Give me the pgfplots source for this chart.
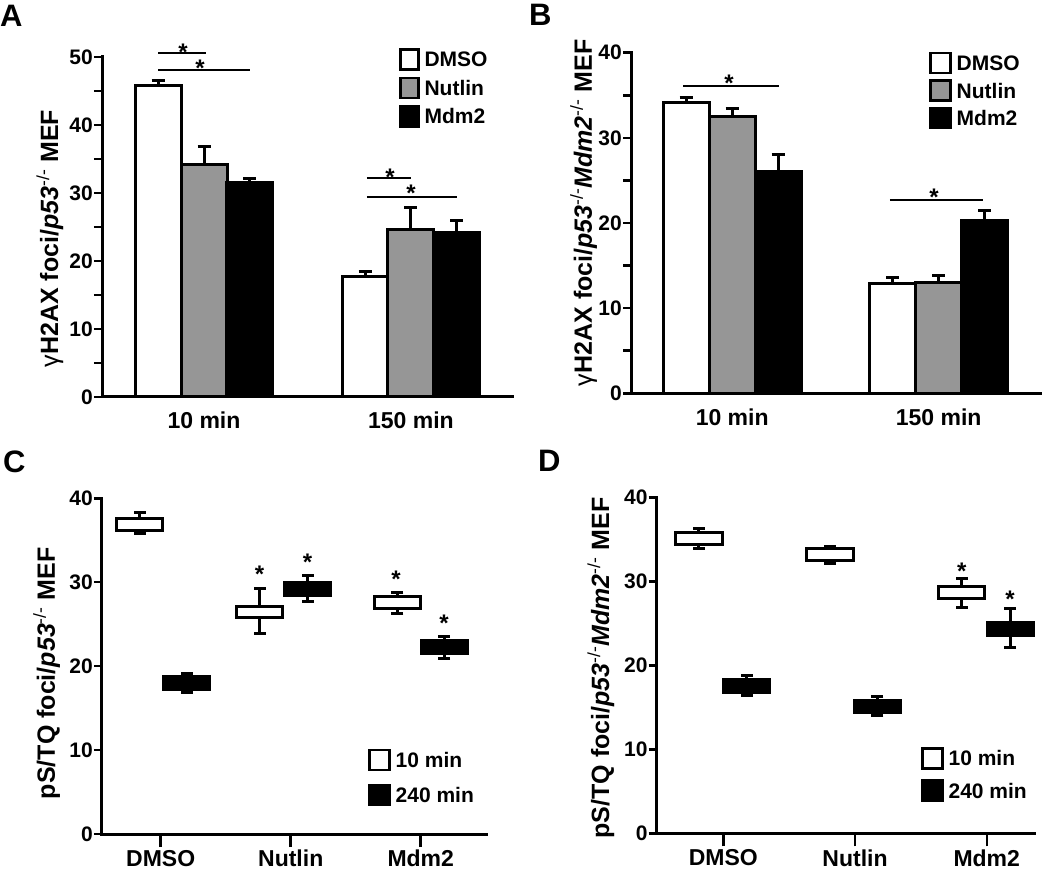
\documentclass[border=0pt]{standalone}
\usepackage{pgfplots}
\pgfplotsset{compat=1.18}
\usepackage{fontspec}
\setmainfont{Liberation Sans}
\definecolor{ngray}{RGB}{150,150,150}
\newcommand{\tickfont}{\fontsize{21}{21}\selectfont\bfseries}
\newcommand{\xlabfont}{\fontsize{23}{23}\selectfont\bfseries}
\newcommand{\legfont}{\fontsize{21}{21}\selectfont\bfseries}
\newcommand{\ylabfont}{\fontsize{25}{25}\selectfont\bfseries}
\newcommand{\starfont}{\fontsize{24}{24}\selectfont\bfseries}
\newcommand{\panelfont}{\fontsize{31}{31}\selectfont\bfseries}
\tikzset{
  sig/.style={line width=2pt},
  star/.style={font=\starfont, anchor=base, yshift=-13.5pt, inner sep=0pt},
}
\pgfplotsset{
  panel/.style={
    scale only axis, anchor=south west, clip=false,
    axis x line*=bottom, axis y line*=left,
    axis line style={line width=3pt, -, line cap=rect},
    tick align=outside, major tick length=8pt, minor tick length=8pt,
    every tick/.style={line width=2.5pt, black},
    /pgf/number format/assume math mode=true,
    yticklabel style={font=\tickfont, inner sep=0pt, xshift=-1pt},
    ylabel style={font=\ylabfont, anchor=base},
    ymin=0,
    legend style={anchor=north west, draw=none, fill=none, inner sep=0pt,
      font=\legfont, column sep=5pt,
      nodes={inner sep=0pt, text height=15pt, text depth=0pt}, cells={anchor=west}},
  },
  catx/.style={xtick=\empty,
    extra x ticks={0,1,2}, extra x tick labels={DMSO,Nutlin,Mdm2},
    extra x tick style={major tick length=13pt,
      xticklabel style={font=\xlabfont, inner sep=0pt, yshift=-3pt}}},
  legsq/.style={legend image code/.code={\draw[draw=black, fill=#1, line width=2.5pt] (0pt,-10pt) rectangle (18pt,10pt);}},
  legsqb/.style={legend image code/.code={\draw[draw=black, fill=#1, line width=2.5pt] (0pt,-10pt) rectangle (20pt,10pt);}},
  barA/.style={ybar, bar width=46pt, bar shift=0pt, draw=black, line width=3pt, fill=#1,
     error bars/.cd, y dir=plus, y explicit,
     error bar style={line width=3pt, black},
     error mark options={rotate=90, mark size=6.5pt, line width=3pt, black}},
  whisk/.style={draw=black, line width=3pt, mark=none},
  caps/.style={only marks, mark=-, mark size=6pt, mark options={draw=black, line width=3pt}},
  box/.style={draw=black, fill=#1, line width=3pt, mark=none, line join=miter},
}
\begin{document}
\begin{tikzpicture}
\useasboundingbox (0pt,0pt) rectangle (1050pt,871pt);

% ---------------- Panel A ----------------
\begin{axis}[panel, at={(102pt,474pt)}, width=410pt, height=340pt,
  xmin=-0.4928, xmax=1.488, ymax=50,
  ytick={0,10,20,30,40,50}, minor ytick={5,15,25,35,45},
  xtick={0,1}, xticklabels={10 min,150 min}, xtick style={draw=none},
  xticklabel style={font=\xlabfont, inner sep=0pt, yshift=-7pt},
  ylabel={{\mdseries γ}H2AX foci/\textit{p53}\textsuperscript{\mdseries -/-} MEF},
  ylabel style={at={(axis description cs:-0.107,0.466)}},
  legend style={at={(axis description cs:0.724,1.027)}, row sep=6pt},
]
\addlegendimage{legsq=white}\addlegendentry{DMSO}
\addlegendimage{legsq=ngray}\addlegendentry{Nutlin}
\addlegendimage{legsq=black}\addlegendentry{Mdm2}
\addplot[barA=white] coordinates {(-0.222,45.8) +- (0,0.7) (0.778,17.7) +- (0,0.7)};
\addplot[barA=ngray] coordinates {(0,34.2) +- (0,2.6) (1,24.7) +- (0,3.1)};
\addplot[barA=black] coordinates {(0.222,31.6) +- (0,0.6) (1.222,24.2) +- (0,1.8)};
\draw[sig] (axis cs:-0.222,50.63) -- (axis cs:0.01,50.63);
\draw[sig] (axis cs:-0.222,48.09) -- (axis cs:0.222,48.09);
\draw[sig] (axis cs:0.787,32.16) -- (axis cs:1.0,32.16);
\draw[sig] (axis cs:0.787,29.46) -- (axis cs:1.222,29.46);
\node[star] at (axis cs:-0.101,51.47) {*};
\node[star] at (axis cs:-0.019,49.12) {*};
\node[star] at (axis cs:0.899,33.13) {*};
\node[star] at (axis cs:1.0,30.69) {*};
\end{axis}

% ---------------- Panel B ----------------
\begin{axis}[panel, at={(631pt,477.7pt)}, width=409pt, height=340.6pt,
  xmin=-0.490, xmax=1.4906, ymax=40,
  ytick={0,10,20,30,40}, minor ytick={5,15,25,35},
  xtick={0,1}, xticklabels={10 min,150 min}, xtick style={draw=none},
  xticklabel style={font=\xlabfont, inner sep=0pt, yshift=-7pt},
  ylabel={{\mdseries γ}H2AX foci/\textit{p53}\textsuperscript{\mdseries -/-}\textit{Mdm2}\textsuperscript{\mdseries -/-} MEF},
  ylabel style={at={(axis description cs:-0.0954,0.530)}},
  legend style={at={(axis description cs:0.7286,1.003)}, row sep=5pt},
]
\addlegendimage{legsqb=white}\addlegendentry{DMSO}
\addlegendimage{legsqb=ngray}\addlegendentry{Nutlin}
\addlegendimage{legsqb=black}\addlegendentry{Mdm2}
\addplot[barA=white] coordinates {(-0.223,34.1) +- (0,0.6) (0.777,12.9) +- (0,0.7)};
\addplot[barA=ngray] coordinates {(0,32.5) +- (0,0.9) (1,13.0) +- (0,0.8)};
\addplot[barA=black] coordinates {(0.223,26.1) +- (0,1.9) (1.223,20.3) +- (0,1.2)};
\draw[sig] (axis cs:-0.238,36.09) -- (axis cs:0.227,36.09);
\draw[sig] (axis cs:0.764,22.70) -- (axis cs:1.2145,22.70);
\node[star] at (axis cs:-0.015,36.99) {*};
\node[star] at (axis cs:0.977,23.68) {*};
\end{axis}

% ---------------- Panel C ----------------
\begin{axis}[panel, catx, at={(102pt,37pt)}, width=384pt, height=335.7pt,
  xmin=-0.4515, xmax=2.502, ymax=40,
  ytick={0,10,20,30,40},
  ylabel={pS/TQ foci/\textit{p53}\textsuperscript{\mdseries -/-} MEF},
  ylabel style={at={(axis description cs:-0.1224,0.479)}},
  legend style={at={(axis description cs:0.6927,0.254)}, row sep=12.4pt},
]
\addlegendimage{legsqb=white}\addlegendentry{10 min}
\addlegendimage{legsqb=black}\addlegendentry{240 min}
% whiskers (lower whisker to upper whisker)
\addplot[whisk] coordinates {(-0.163,35.8) (-0.163,38.3)};
\addplot[whisk] coordinates {(0.2,16.85) (0.2,19.15)};
\addplot[whisk] coordinates {(0.76,23.9) (0.76,29.3)};
\addplot[whisk] coordinates {(1.13,27.7) (1.13,30.8)};
\addplot[whisk] coordinates {(1.82,26.3) (1.82,28.8)};
\addplot[whisk] coordinates {(2.18,20.9) (2.18,23.5)};
\addplot[caps] coordinates {(-0.163,35.8) (-0.163,38.3) (0.2,16.85) (0.2,19.15)
  (0.76,23.9) (0.76,29.3) (1.13,27.7) (1.13,30.8) (1.82,26.3) (1.82,28.8) (2.18,20.9) (2.18,23.5)};
% boxes (lower quartile to upper quartile)
\addplot[box=white] coordinates {(-0.340,36.2) (0.014,36.2) (0.014,37.6) (-0.340,37.6)} -- cycle;
\addplot[box=black] coordinates {(0.023,17.25) (0.377,17.25) (0.377,18.75) (0.023,18.75)} -- cycle;
\addplot[box=white] coordinates {(0.583,25.8) (0.937,25.8) (0.937,27.1) (0.583,27.1)} -- cycle;
\addplot[box=black] coordinates {(0.953,28.4) (1.307,28.4) (1.307,29.95) (0.953,29.95)} -- cycle;
\addplot[box=white] coordinates {(1.643,26.9) (1.997,26.9) (1.997,28.3) (1.643,28.3)} -- cycle;
\addplot[box=black] coordinates {(2.003,21.45) (2.357,21.45) (2.357,23.04) (2.003,23.04)} -- cycle;
\node[star] at (axis cs:0.76,31.55) {*};
\node[star] at (axis cs:1.13,33.0) {*};
\node[star] at (axis cs:1.81,31.0) {*};
\node[star] at (axis cs:2.18,25.7) {*};
\end{axis}

% ---------------- Panel D ----------------
\begin{axis}[panel, catx, at={(656.7pt,37.7pt)}, width=378pt, height=335.6pt,
  xmin=-0.5057, xmax=2.364, ymax=40,
  ytick={0,10,20,30,40},
  ylabel={pS/TQ foci/\textit{p53}\textsuperscript{\mdseries -/-}\textit{Mdm2}\textsuperscript{\mdseries -/-} MEF},
  ylabel style={at={(axis description cs:-0.126,0.4926)}},
  legend style={at={(axis description cs:0.699,0.2573)}, row sep=9.8pt},
]
\addlegendimage{legsqb=white}\addlegendentry{10 min}
\addlegendimage{legsqb=black}\addlegendentry{240 min}
\addplot[whisk] coordinates {(-0.185,33.97) (-0.185,36.35)};
\addplot[whisk] coordinates {(0.178,16.4) (0.178,18.75)};
\addplot[whisk] coordinates {(0.81,32.2) (0.81,34.2)};
\addplot[whisk] coordinates {(1.17,14.0) (1.17,16.3)};
\addplot[whisk] coordinates {(1.81,26.94) (1.81,30.4)};
\addplot[whisk] coordinates {(2.177,22.17) (2.177,26.8)};
\addplot[caps] coordinates {(-0.185,33.97) (-0.185,36.35) (0.178,16.4) (0.178,18.75)
  (0.81,32.2) (0.81,34.2) (1.17,14.0) (1.17,16.3) (1.81,26.94) (1.81,30.4) (2.177,22.17) (2.177,26.8)};
\addplot[box=white] coordinates {(-0.360,34.45) (-0.010,34.45) (-0.010,35.83) (-0.360,35.83)} -- cycle;
\addplot[box=black] coordinates {(0.003,16.8) (0.353,16.8) (0.353,18.35) (0.003,18.35)} -- cycle;
\addplot[box=white] coordinates {(0.635,32.5) (0.985,32.5) (0.985,33.9) (0.635,33.9)} -- cycle;
\addplot[box=black] coordinates {(0.995,14.4) (1.345,14.4) (1.345,15.8) (0.995,15.8)} -- cycle;
\addplot[box=white] coordinates {(1.635,28.0) (1.985,28.0) (1.985,29.4) (1.635,29.4)} -- cycle;
\addplot[box=black] coordinates {(2.002,23.63) (2.352,23.63) (2.352,25.15) (2.002,25.15)} -- cycle;
\node[star] at (axis cs:1.81,31.86) {*};
\node[star] at (axis cs:2.177,28.49) {*};
\end{axis}

\node[font=\panelfont, anchor=base west, inner sep=0pt] at (0pt,844pt) {A};
\node[font=\panelfont, anchor=base west, inner sep=0pt] at (529pt,845pt) {B};
\node[font=\panelfont, anchor=base west, inner sep=0pt] at (3pt,398pt) {C};
\node[font=\panelfont, anchor=base west, inner sep=0pt] at (538pt,399pt) {D};
\end{tikzpicture}
\end{document}
